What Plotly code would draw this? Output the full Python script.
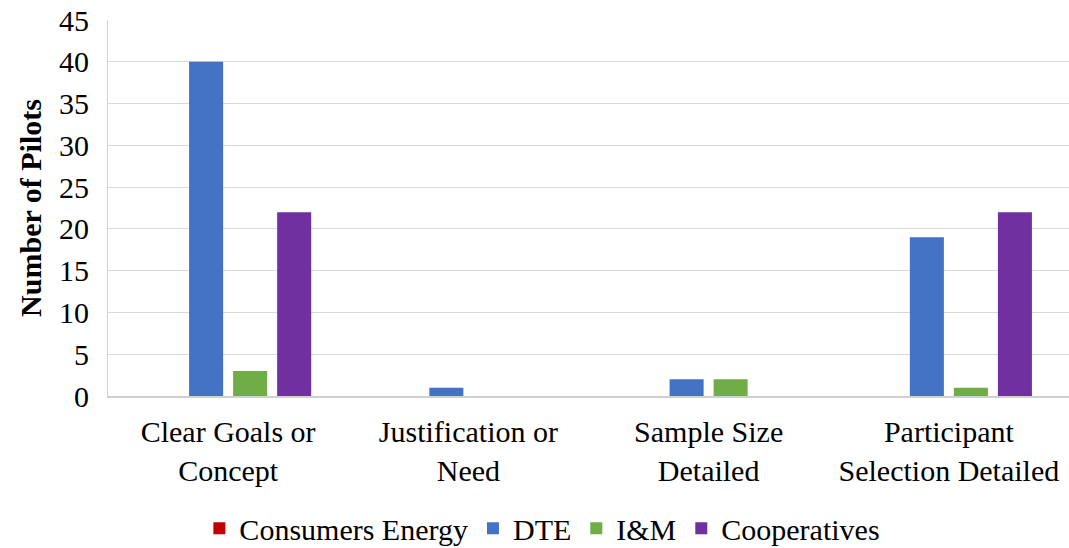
import plotly.graph_objects as go

categories = ["Clear Goals or<br>Concept", "Justification or<br>Need",
              "Sample Size<br>Detailed", "Participant<br>Selection Detailed"]
consumers_energy = [0, 0, 0, 0]
dte = [40, 1, 2, 19]
im = [3, 0, 2, 1]
cooperatives = [22, 0, 0, 22]

series = [
    ("Consumers Energy", consumers_energy, "#C00000"),
    ("DTE", dte, "#4472C4"),
    ("I&M", im, "#70AD47"),
    ("Cooperatives", cooperatives, "#7030A0"),
]

font_family = "Liberation Serif"

fig = go.Figure()
for name, vals, color in series:
    fig.add_trace(go.Bar(x=categories, y=vals, name=name,
                         marker=dict(color=color, line=dict(width=0))))

fig.update_layout(
    width=1069, height=548,
    barmode="group", bargap=0.267, bargroupgap=0.227,
    plot_bgcolor="white", paper_bgcolor="white",
    margin=dict(l=108, r=0, t=20, b=152, autoexpand=False),
    font=dict(family=font_family, color="#000000", size=30),
    showlegend=True,
    legend=dict(orientation="h", x=0.452, xanchor="center",
                yref="container", y=0.036, yanchor="middle",
                font=dict(family=font_family, size=30), itemwidth=30, traceorder="normal"),
)
fig.update_xaxes(showline=True, linecolor="#d0d0d0", linewidth=2, automargin=False,
                 tickfont=dict(family=font_family, size=30), ticks="", ticklabelstandoff=8)
fig.update_yaxes(range=[0, 45], dtick=5, showgrid=True, gridcolor="#d9d9d9", gridwidth=1,
                 showline=True, linecolor="#d0d0d0", linewidth=1, zeroline=False,
                 automargin=False,
                 tickfont=dict(family=font_family, size=30), ticks="", ticklabelstandoff=12,
                 title=dict(text="<b>Number of Pilots</b>",
                            font=dict(family=font_family, size=30), standoff=8))

fig.write_html("out.html")
